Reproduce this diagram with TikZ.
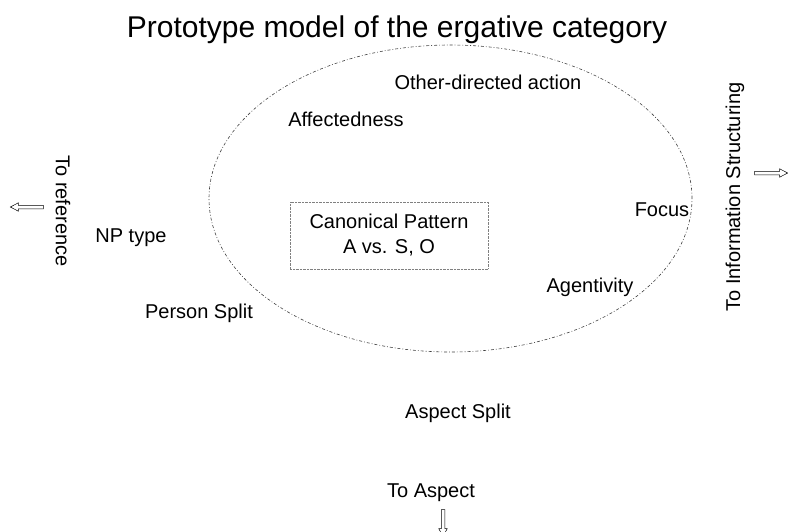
\documentclass[tikz,border=0pt]{standalone}
\usepackage{fontspec}
\setmainfont{Liberation Sans}
\usetikzlibrary{shapes.arrows}
\begin{document}
\begin{tikzpicture}[x=1pt,y=-1pt,
  lbl/.style={font=\fontsize{20}{25}\selectfont,inner sep=0pt,align=center},
  hollowarrow/.style={single arrow,draw,line width=0.5pt,inner xsep=0pt,inner ysep=1.5pt,single arrow head extend=2.5pt,single arrow tip angle=55,minimum height=33pt}]
\useasboundingbox (0,0) rectangle (788,531);
\pgfmathsetmacro{\cx}{450.5}
\pgfmathsetmacro{\cy}{198.5}
% title and the category
\node[font=\fontsize{30}{36}\selectfont,inner sep=0pt] (title) at (397,30) {Prototype model of the ergative category};
\draw[line width=0.6pt,black!75,dash pattern=on 3pt off 2pt on 0.8pt off 2pt] (\cx,\cy) ellipse [x radius=241.5pt,y radius=153.5pt];
\node[lbl,draw=gray,densely dotted,minimum width=198pt,minimum height=67pt] (canon) at (389,235.5) {Canonical Pattern\\A vs. S, O};
% parameters
\node[lbl] (other) at (488,82) {Other-directed action};
\node[lbl] (affect) at (346,119) {Affectedness};
\node[lbl] (focus) at (662,210) {Focus};
\node[lbl] (agent) at (590,287) {Agentivity};
\node[lbl] (nptype) at (131,238) {NP type};
\node[lbl] (person) at (199,313) {Person Split};
\node[lbl] (aspect) at (458,413) {Aspect Split};
% links to other domains
\node[lbl,rotate=-90] (toref) at (63,211) {To reference};
\node[lbl,rotate=90] (toinfo) at (735,197) {To Information Structuring};
\node[lbl] (toasp) at (431,493) {To Aspect};
\node[hollowarrow,shape border rotate=180] (arrref) at (28.5,207) {};
\node[hollowarrow] (arrinfo) at (769.5,173) {};
\node[hollowarrow,rotate=-90,minimum height=27pt] (arrasp) at (443,521.5) {};
\end{tikzpicture}
\end{document}
